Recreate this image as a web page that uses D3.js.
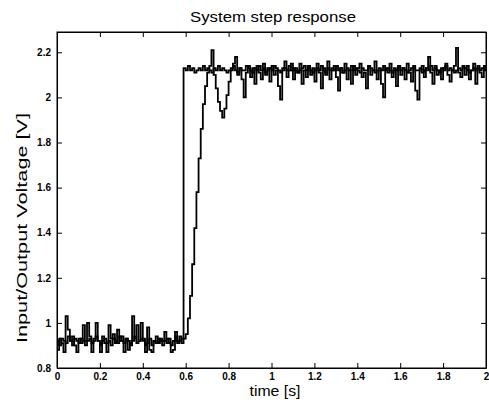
<!DOCTYPE html>
<html>
<head>
<meta charset="utf-8">
<script src="https://cdn.jsdelivr.net/npm/d3@7"></script>
<style>
  body { margin: 0; background: #fff; }
  text { font-family: "Liberation Sans", Arial, sans-serif; }
</style>
</head>
<body>
<div id="chart"></div>
<script>
var t0 = 0;
var dt = 0.01;

// measured output [V]
var outputVolt = [
  0.88, 0.93, 0.91, 0.87, 1.03, 0.97, 0.92, 0.94, 0.90, 0.87,
  0.93, 0.91, 0.99, 0.92, 1.00, 0.94, 0.87, 0.93, 1.00, 0.92,
  0.87, 0.94, 0.91, 0.87, 0.99, 0.93, 0.95, 0.91, 0.97, 0.92,
  0.94, 0.87, 0.93, 0.88, 0.91, 1.03, 0.93, 0.99, 0.92, 1.00,
  0.93, 0.87, 0.98, 0.88, 0.87, 0.92, 0.94, 0.91, 0.93, 0.92,
  0.96, 0.91, 0.93, 0.87, 0.88, 0.96, 0.92, 0.94, 0.91, 0.93,
  0.95, 1.02, 1.12, 1.26, 1.42, 1.58, 1.73, 1.86, 1.97, 2.05,
  2.11, 2.14, 2.21, 2.10, 2.04, 1.98, 1.94, 1.91, 1.95, 2.01,
  2.07, 2.12, 2.15, 2.18, 2.10, 2.13, 2.08, 2.00, 2.11, 2.14,
  2.09, 2.13, 2.06, 2.14, 2.11, 2.08, 2.15, 2.10, 2.13, 2.07,
  2.14, 2.10, 2.12, 2.05, 1.99, 2.13, 2.16, 2.09, 2.12, 2.15,
  2.08, 2.13, 2.11, 2.15, 2.06, 2.12, 2.09, 2.14, 2.10, 2.13,
  2.07, 2.15, 2.11, 2.04, 2.13, 2.10, 2.16, 2.08, 2.12, 2.14,
  2.09, 2.03, 2.13, 2.11, 2.15, 2.08, 2.12, 2.06, 2.14, 2.10,
  2.13, 2.15, 2.09, 2.11, 2.04, 2.14, 2.10, 2.12, 2.16, 2.08,
  2.12, 2.06, 2.00, 2.13, 2.11, 2.15, 2.09, 2.12, 2.05, 2.14,
  2.10, 2.13, 2.08, 2.15, 2.11, 2.07, 2.13, 2.03, 1.99, 2.12,
  2.14, 2.09, 2.13, 2.18, 2.11, 2.06, 2.14, 2.10, 2.12, 2.08,
  2.13, 2.15, 2.10, 2.07, 2.12, 2.14, 2.22, 2.11, 2.09, 2.13,
  2.10, 2.14, 2.08, 2.12, 2.15, 2.06, 2.13, 2.11, 2.09, 2.14,
  2.12
];

// measured input (step) [V]
var inputVolt = [
  0.92, 0.90, 0.93, 0.92, 0.91, 0.94, 0.92, 0.90, 0.93, 0.92,
  0.91, 0.93, 0.92, 0.90, 0.92, 0.93, 0.91, 0.92, 0.94, 0.92,
  0.90, 0.92, 0.93, 0.91, 0.92, 0.90, 0.93, 0.92, 0.91, 0.94,
  0.92, 0.91, 0.93, 0.92, 0.90, 0.92, 0.94, 0.91, 0.92, 0.93,
  0.92, 0.90, 0.91, 0.93, 0.90, 0.92, 0.91, 0.93, 0.92, 0.90,
  0.92, 0.93, 0.91, 0.90, 0.92, 0.94, 0.91, 0.92, 0.93, 2.13,
  2.12, 2.14, 2.12, 2.13, 2.11, 2.12, 2.13, 2.12, 2.14, 2.12,
  2.13, 2.12, 2.11, 2.13, 2.12, 2.14, 2.12, 2.13, 2.12, 2.11,
  2.12, 2.13, 2.14, 2.12, 2.11, 2.13, 2.12, 2.12, 2.14, 2.13,
  2.12, 2.11, 2.13, 2.12, 2.14, 2.12, 2.13, 2.11, 2.12, 2.13,
  2.12, 2.14, 2.13, 2.12, 2.11, 2.12, 2.13, 2.12, 2.14, 2.12,
  2.13, 2.12, 2.11, 2.12, 2.13, 2.14, 2.12, 2.13, 2.12, 2.11,
  2.12, 2.13, 2.12, 2.14, 2.12, 2.11, 2.13, 2.12, 2.13, 2.12,
  2.14, 2.12, 2.13, 2.11, 2.12, 2.13, 2.12, 2.14, 2.12, 2.13,
  2.12, 2.11, 2.13, 2.12, 2.12, 2.14, 2.13, 2.12, 2.11, 2.12,
  2.13, 2.12, 2.14, 2.12, 2.13, 2.12, 2.11, 2.13, 2.12, 2.14,
  2.12, 2.13, 2.12, 2.11, 2.12, 2.13, 2.14, 2.12, 2.12, 2.13,
  2.11, 2.12, 2.13, 2.12, 2.14, 2.12, 2.13, 2.12, 2.11, 2.13,
  2.12, 2.14, 2.12, 2.13, 2.12, 2.11, 2.12, 2.13, 2.12, 2.14,
  2.13, 2.12, 2.11, 2.12, 2.13, 2.12, 2.14, 2.12, 2.13, 2.12,
  2.12
];

var xTicks = [0, 0.2, 0.4, 0.6, 0.8, 1, 1.2, 1.4, 1.6, 1.8, 2];
var yTicks = [0.8, 1, 1.2, 1.4, 1.6, 1.8, 2, 2.2];

var W = 489, H = 402;
var margin = {top: 32, right: 3, bottom: 34, left: 57};

var svg = d3.select("#chart").append("svg")
  .attr("width", W)
  .attr("height", H);

var x = d3.scaleLinear().domain([0, 2]).range([margin.left, W - margin.right]);
var y = d3.scaleLinear().domain([0.8, 2.29]).range([H - margin.bottom, margin.top]);

// the scope samples are held, so draw them as stairs
var line = d3.line()
  .curve(d3.curveStepAfter)
  .x(d => x(d[0]))
  .y(d => y(d[1]));

var toPoints = arr => arr.map((v, i) => [t0 + i * dt, v]);

var plot = svg.append("g")
  .attr("fill", "none")
  .attr("stroke", "#000")
  .attr("stroke-width", 1.8);
plot.append("path").datum(toPoints(inputVolt)).attr("d", line);
plot.append("path").datum(toPoints(outputVolt)).attr("d", line);

// axes, ticks pointing inwards on all four sides
var tickFmt = d3.format("~g");
svg.append("g")
  .attr("transform", `translate(0,${H - margin.bottom})`)
  .call(d3.axisBottom(x).tickValues(xTicks).tickSizeInner(-5).tickSizeOuter(0).tickPadding(5).tickFormat(tickFmt));
svg.append("g")
  .attr("transform", `translate(0,${margin.top})`)
  .call(d3.axisTop(x).tickValues(xTicks).tickSizeInner(-5).tickSizeOuter(0).tickFormat(""));
svg.append("g")
  .attr("transform", `translate(${margin.left},0)`)
  .call(d3.axisLeft(y).tickValues(yTicks).tickSizeInner(-5).tickSizeOuter(0).tickPadding(6).tickFormat(tickFmt));
svg.append("g")
  .attr("transform", `translate(${W - margin.right},0)`)
  .call(d3.axisRight(y).tickValues(yTicks).tickSizeInner(-5).tickSizeOuter(0).tickFormat(""));

svg.selectAll(".domain").attr("stroke", "#000");
svg.selectAll(".tick line").attr("stroke", "#000");
svg.selectAll(".tick text")
  .attr("font-size", 10)
  .attr("font-weight", "bold")
  .attr("fill", "#000");

svg.append("rect")
  .attr("x", margin.left).attr("y", margin.top)
  .attr("width", W - margin.left - margin.right)
  .attr("height", H - margin.top - margin.bottom)
  .attr("fill", "none")
  .attr("stroke", "#000");

svg.append("text")
  .attr("x", 273)
  .attr("y", 22)
  .attr("text-anchor", "middle")
  .attr("font-size", 15)
  .attr("textLength", 166)
  .attr("lengthAdjust", "spacingAndGlyphs")
  .text("System step response");

svg.append("text")
  .attr("x", 275)
  .attr("y", 396)
  .attr("text-anchor", "middle")
  .attr("font-size", 14)
  .attr("textLength", 51)
  .attr("lengthAdjust", "spacingAndGlyphs")
  .text("time [s]");

svg.append("text")
  .attr("transform", "translate(27,228) rotate(-90)")
  .attr("text-anchor", "middle")
  .attr("font-size", 14)
  .attr("textLength", 230)
  .attr("lengthAdjust", "spacingAndGlyphs")
  .text("Input/Output Voltage [V]");
</script>
</body>
</html>
